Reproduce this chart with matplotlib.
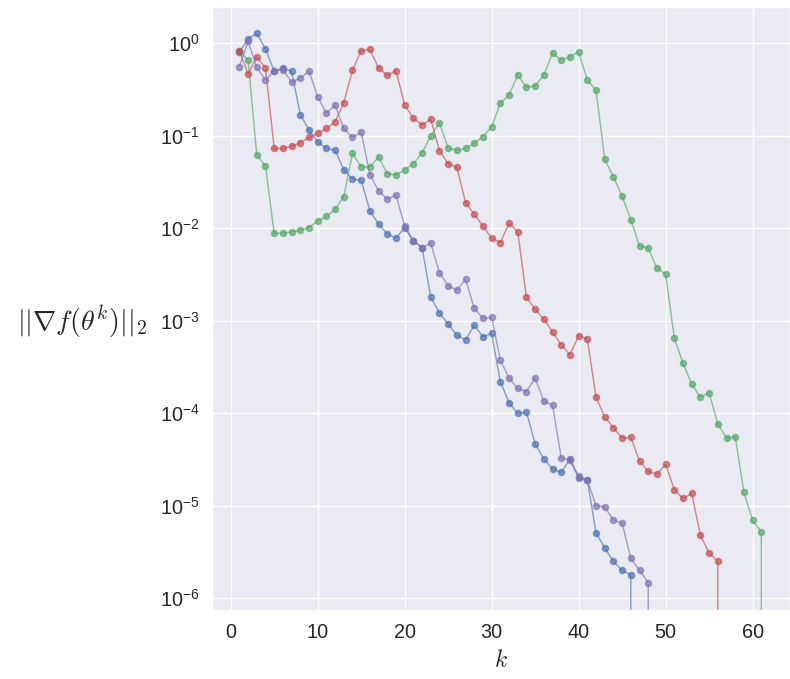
import numpy as np
import matplotlib
matplotlib.use("Agg")
import matplotlib.pyplot as plt
import matplotlib.ticker as mticker
import seaborn as sns

# ||grad f|| per iteration for four runs; a 0 marks exact convergence
blue = [0.80, 1.12, 1.28, 0.87, 0.50, 0.54, 0.50, 0.17, 0.116, 0.086,
        0.073, 0.070, 0.043, 0.034, 0.033, 0.0155, 0.0111, 0.0087, 0.0078, 0.0102,
        0.0073, 0.0062, 0.0018, 0.00122, 0.00092, 0.00070, 0.00062, 0.00090, 0.00067, 0.00073,
        0.00022, 0.00013, 0.00010, 0.000103, 4.7e-5, 3.2e-5, 2.5e-5, 2.3e-5, 3.2e-5, 2.0e-5,
        1.9e-5, 5.1e-6, 3.5e-6, 2.5e-6, 2.0e-6, 1.8e-6, 0]
green = [0.82, 0.66, 0.062, 0.047, 0.0088, 0.0089, 0.0091, 0.0095, 0.0102, 0.012,
         0.0135, 0.016, 0.022, 0.065, 0.046, 0.046, 0.059, 0.039, 0.0377, 0.043,
         0.050, 0.065, 0.10, 0.139, 0.073, 0.070, 0.073, 0.083, 0.098, 0.125,
         0.225, 0.276, 0.454, 0.334, 0.345, 0.454, 0.78, 0.66, 0.72, 0.81,
         0.40, 0.31, 0.0557, 0.036, 0.0223, 0.0123, 0.00645, 0.0061, 0.0037, 0.0032,
         0.00065, 0.000347, 0.000207, 0.000149, 0.000167, 7.7e-5, 5.37e-5, 5.6e-5, 1.4e-5, 7.0e-6,
         5.2e-6, 0]
red = [0.82, 0.47, 0.71, 0.54, 0.073, 0.073, 0.077, 0.084, 0.096, 0.106,
       0.12, 0.142, 0.228, 0.51, 0.83, 0.86, 0.54, 0.45, 0.506, 0.215,
       0.155, 0.131, 0.151, 0.069, 0.050, 0.046, 0.019, 0.0142, 0.0106, 0.0078,
       0.0070, 0.0113, 0.0092, 0.0018, 0.00133, 0.00104, 0.00076, 0.00055, 0.00043, 0.00069,
       0.00064, 0.000149, 9.1e-5, 7.0e-5, 5.4e-5, 5.5e-5, 3.05e-5, 2.35e-5, 2.2e-5, 2.8e-5,
       1.5e-5, 1.2e-5, 1.36e-5, 4.8e-6, 3.1e-6, 2.5e-6, 0]
purple = [0.56, 1.05, 0.55, 0.40, 0.50, 0.52, 0.38, 0.42, 0.50, 0.265,
          0.175, 0.215, 0.12, 0.096, 0.11, 0.038, 0.0255, 0.0206, 0.0229, 0.0106,
          0.0073, 0.0062, 0.0069, 0.0033, 0.00238, 0.00215, 0.0028, 0.00137, 0.00106, 0.00109,
          0.000377, 0.00024, 0.000186, 0.000171, 0.00024, 0.000136, 0.000122, 3.3e-5, 3.1e-5, 2.1e-5,
          1.9e-5, 1.0e-5, 9.7e-6, 7.0e-6, 6.5e-6, 2.7e-6, 2.0e-6, 1.48e-6, 0]

colors = ["#4C72B0", "#55A868", "#C44E52", "#8172B2"]

sns.set_style("darkgrid")
plt.rcParams['font.family'] = ['Liberation Sans', 'DejaVu Sans']

dpi = 130
fig = plt.figure(figsize=(790 / dpi, 679 / dpi), dpi=dpi)
ax = fig.add_axes([212 / 790, 1 - 610 / 679, 578 / 790, 603 / 679])

for vals, c in zip([blue, green, red, purple], colors):
    k = np.arange(1, len(vals) + 1)
    ax.plot(k, vals, '-o', color=c, alpha=0.65, lw=0.8, ms=3.2)

ax.set_yscale('log')
ax.set_xlim(-2.15, 64.3)
ax.set_ylim(7.47e-7, 2.47)
ax.set_xticks(range(0, 70, 10))
ax.yaxis.set_minor_formatter(mticker.NullFormatter())
ax.tick_params(labelsize=11, labelcolor='#262626')
ax.set_xlabel('$k$', fontsize=13, math_fontfamily='cm')
ax.set_ylabel(r'$||\nabla f(\theta^k)||_2$', rotation=0, fontsize=15.5,
              math_fontfamily='cm', ha='right', va='center')
ax.yaxis.set_label_coords(-0.112, 0.478)

fig.savefig('out.png', dpi=dpi)
